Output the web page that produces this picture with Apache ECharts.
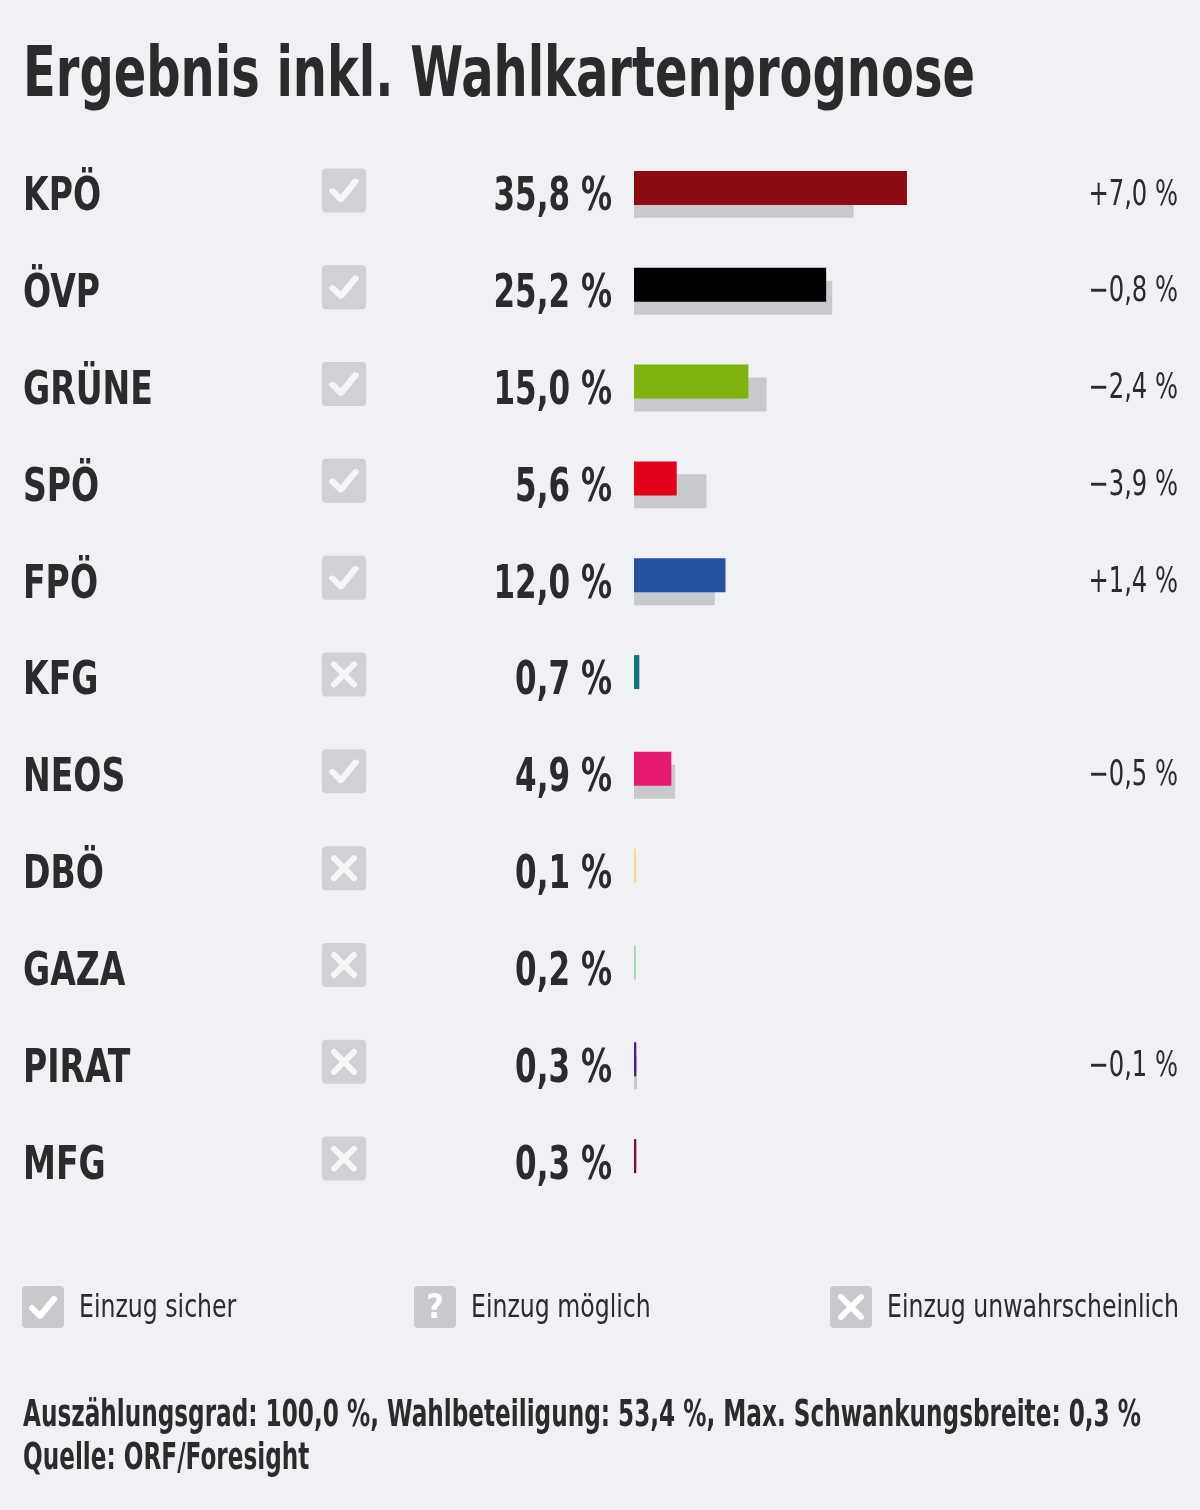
<!DOCTYPE html>
<html><head><meta charset="utf-8">
<script src="https://cdn.jsdelivr.net/npm/echarts@6/dist/echarts.min.js"></script>
<style>html,body{margin:0;padding:0;background:#f0f1f5}#c{width:1200px;height:1510px}</style>
</head><body><div id="c"></div>
<script>
const parties  = ['KPÖ','ÖVP','GRÜNE','SPÖ','FPÖ','KFG','NEOS','DBÖ','GAZA','PIRAT','MFG'];
const results  = [35.8, 25.2, 15.0, 5.6, 12.0, 0.7, 4.9, 0.1, 0.2, 0.3, 0.3];
const previous = [28.8, 26.0, 17.4, 9.5, 10.6, null, 5.4, null, null, 0.4, null];
const changes  = ['+7,0 %','−0,8 %','−2,4 %','−3,9 %','+1,4 %','','−0,5 %','','','−0,1 %',''];
const status   = ['sicher','sicher','sicher','sicher','sicher','unwahrscheinlich','sicher','unwahrscheinlich','unwahrscheinlich','unwahrscheinlich','unwahrscheinlich'];
const colors   = ['#8d0c13','#000000','#7fb20d','#e2001a','#22519e','#0e7582','#e51a6e','#f3dc7a','#a9d9b2','#4a1d86','#73102e'];
const legendItems = ['Einzug sicher','Einzug möglich','Einzug unwahrscheinlich'];
const titleText = 'Ergebnis inkl. Wahlkartenprognose';
const footerLines = ['Auszählungsgrad: 100,0 %, Wahlbeteiligung: 53,4 %, Max. Schwankungsbreite: 0,3 %','Quelle: ORF/Foresight'];

const F = "'DejaVu Sans Condensed','Liberation Sans Narrow',sans-serif";
const TXT = '#2b2b2b';
const BOX = '#c8c9cd';
const BOX_PATH = 'path://M4,0 H40 A4,4 0 0 1 44,4 V40 A4,4 0 0 1 40,44 H4 A4,4 0 0 1 0,40 V4 A4,4 0 0 1 4,0 Z';
const CHECK_PATH = 'path://M0,11 L8,19 L22,2';
const X_PATH = 'path://M0,0 L20,20 M20,0 L0,20';
const fmt = v => v.toFixed(1).replace('.', ',') + ' %';

const mctx = document.createElement('canvas').getContext('2d');
function fitScale(text, font, target) { mctx.font = font; return target / mctx.measureText(text).width; }

function legendIcon(cx, cy, kind) {
  const children = [{type:'rect', shape:{x:cx-21, y:cy-21, width:42, height:42, r:4}, style:{fill:BOX}}];
  if (kind === 0) children.push({type:'polyline', shape:{points:[[cx-11,cy+1],[cx-3,cy+9],[cx+11,cy-8]]}, style:{stroke:'#fff', lineWidth:6, lineCap:'round', lineJoin:'round', fill:null}});
  if (kind === 1) children.push({type:'text', style:{x:cx, y:cy+2, text:'?', fill:'#fff', font:"bold 34px " + F, align:'center', verticalAlign:'middle'}});
  if (kind === 2) children.push({type:'polyline', shape:{points:[[cx-10,cy-10],[cx+10,cy+10]]}, style:{stroke:'#fff', lineWidth:6, lineCap:'round'}},
                                {type:'polyline', shape:{points:[[cx+10,cy-10],[cx-10,cy+10]]}, style:{stroke:'#fff', lineWidth:6, lineCap:'round'}});
  return {type:'group', children};
}

const titleFont = "bold 69px " + F;
const footFont = "bold 38px " + F;
const legFont = "32px " + F;
const titleScale = fitScale(titleText, titleFont, 952);
const footScale = fitScale(footerLines[0], footFont, 1118);
const legScale = fitScale(legendItems[2], legFont, 292);

const graphics = [
  {type:'text', x:23, y:44, scaleX:titleScale, style:{x:0, y:0, text:titleText, fill:TXT, font:titleFont, verticalAlign:'top'}},
  {type:'text', x:23, y:1397, scaleX:footScale, style:{x:0, y:0, text:footerLines[0], fill:TXT, font:footFont, verticalAlign:'top'}},
  {type:'text', x:23, y:1440, scaleX:footScale, style:{x:0, y:0, text:footerLines[1], fill:TXT, font:footFont, verticalAlign:'top'}}
];
const legendX = [43, 435, 851];
legendItems.forEach((t, i) => {
  graphics.push(legendIcon(legendX[i], 1307, i));
  graphics.push({type:'text', x:legendX[i]+36, y:1309, scaleX:legScale, style:{x:0, y:0, text:t, fill:TXT, font:legFont, verticalAlign:'middle'}});
});

const nameFont = "bold 46px " + F, pctFont = "bold 46px " + F, chgFont = "35px " + F;
function renderRow(params, api) {
  const i = api.value(1);
  const p = api.coord([0, i]);
  const kids = [
    {type:'text', x:23, y:p[1] + 4, scaleX:0.8, style:{x:0, y:0, text:parties[i], fill:TXT, font:nameFont, align:'left', verticalAlign:'middle'}},
    {type:'text', x:p[0] - 22, y:p[1] + 4, scaleX:0.75, style:{x:0, y:0, text:fmt(api.value(0)), fill:TXT, font:pctFont, align:'right', verticalAlign:'middle'}}
  ];
  if (changes[i]) kids.push({type:'text', x:1178, y:p[1] + 1, scaleX:0.77, style:{x:0, y:0, text:changes[i], fill:TXT, font:chgFont, align:'right', verticalAlign:'middle'}});
  return {type:'group', children:kids};
}

const chart = echarts.init(document.getElementById('c'), null, {renderer:'canvas'});
chart.setOption({
  backgroundColor:'#f0f1f5',
  animation:false,
  grid:[
    {left:634, top:146, width:305, height:1065},
    {left:322, top:146, width:44, height:1065}
  ],
  xAxis:[
    {type:'value', gridIndex:0, min:0, max:40, show:false},
    {type:'value', gridIndex:1, min:0, max:1, show:false}
  ],
  yAxis:[
    {type:'category', gridIndex:0, data:parties, inverse:true, show:false},
    {type:'category', gridIndex:1, data:parties, inverse:true, show:false}
  ],
  series:[
    {type:'bar', name:'Ergebnis', xAxisIndex:0, yAxisIndex:0, z:3, silent:true, barWidth:34, barGap:'-62%', barMinHeight:2,
     data:results.map((v, i) => ({value:v, itemStyle:{color:colors[i]}}))},
    {type:'bar', name:'Vorwahl', xAxisIndex:0, yAxisIndex:0, z:2, silent:true, barWidth:34, barGap:'-62%',
     data:previous.map(v => v === null ? '-' : v), itemStyle:{color:BOX}},
    {type:'custom', name:'Beschriftung', xAxisIndex:0, yAxisIndex:0, silent:true, z:5, clip:false,
     data:results.map((v, i) => [v, i]), encode:{x:0, y:1}, renderItem:renderRow},
    {type:'scatter', xAxisIndex:1, yAxisIndex:1, silent:true, symbol:BOX_PATH, symbolSize:44, symbolOffset:[0,-4],
     data:parties.map(p => [0.5, p]), itemStyle:{color:BOX}, z:3},
    {type:'scatter', xAxisIndex:1, yAxisIndex:1, silent:true, symbol:CHECK_PATH, symbolSize:[23,18], symbolOffset:[0,-4],
     data:parties.filter((p, i) => status[i] === 'sicher').map(p => [0.5, p]),
     itemStyle:{color:'none', borderColor:'#fff', borderWidth:6, borderCap:'round', borderJoin:'round'}, z:4},
    {type:'scatter', xAxisIndex:1, yAxisIndex:1, silent:true, symbol:X_PATH, symbolSize:[20,20], symbolOffset:[0,-4],
     data:parties.filter((p, i) => status[i] === 'unwahrscheinlich').map(p => [0.5, p]),
     itemStyle:{color:'none', borderColor:'#fff', borderWidth:6, borderCap:'round'}, z:4}
  ],
  graphic:graphics
});
</script></body></html>
